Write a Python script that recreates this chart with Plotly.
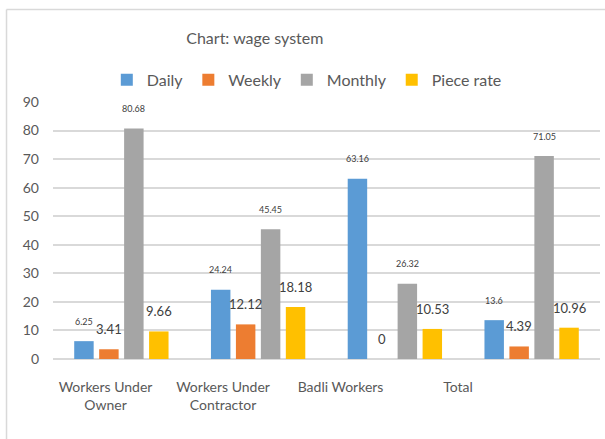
import plotly.graph_objects as go

categories = ["Workers Under<br>Owner", "Workers Under<br>Contractor", "Badli Workers", "Total"]
series_names = ["Daily", "Weekly", "Monthly", "Piece rate"]
daily = [6.25, 24.24, 63.16, 13.6]
weekly = [3.41, 12.12, 0, 4.39]
monthly = [80.68, 45.45, 26.32, 71.05]
piece_rate = [9.66, 18.18, 10.53, 10.96]
y_ticks = [0, 10, 20, 30, 40, 50, 60, 70, 80, 90]

series_values = [daily, weekly, monthly, piece_rate]
colors = ["#5B9BD5", "#ED7D31", "#A5A5A5", "#FFC000"]
label_sizes = [9, 13, 9, 13]

FONT = "Lato, Open Sans, sans-serif"
TXT = "#595959"

fig = go.Figure()
for name, vals, col in zip(series_names, series_values, colors):
    fig.add_trace(go.Bar(name=name, x=categories, y=vals, marker_color=col,
                         marker_line_width=0))

# category labels sit on a second, slightly compressed axis (as in the reference)
positions = list(range(len(categories)))
fig.add_trace(go.Scatter(x=positions, y=[None] * len(positions), xaxis="x2", mode="markers",
                         showlegend=False, hoverinfo="skip"))

# data labels above each bar
slot_px = 25
for i, (vals, size) in enumerate(zip(series_values, label_sizes)):
    for c, v in zip(categories, vals):
        fig.add_annotation(x=c, y=v, text=f"{v:g}", showarrow=False,
                           xshift=(i - 1.5) * slot_px, yshift=20, yanchor="middle",
                           font=dict(size=size, color="#404040", family=FONT))

# outer chart frame
fig.add_shape(type="line", xref="paper", yref="paper", x0=-0.085, x1=-0.085, y0=-0.4, y1=1.36,
              line=dict(color="#D9D9D9", width=1.5))
fig.add_shape(type="line", xref="paper", yref="paper", x0=-0.085, x1=1.05, y0=1.36, y1=1.36,
              line=dict(color="#D9D9D9", width=1.5))

fig.update_layout(
    width=605, height=439,
    margin=dict(l=53, r=5, t=102, b=80),
    paper_bgcolor="white", plot_bgcolor="white",
    barmode="group", bargap=0.27, bargroupgap=0.22,
    font=dict(family=FONT, color=TXT, size=14),
    title=dict(text="Chart: wage system", x=0.369, xref="paper", xanchor="center",
               y=0.912, yref="container", yanchor="middle",
               font=dict(size=16, color=TXT, family=FONT)),
    legend=dict(orientation="h", x=0.464, xanchor="center", y=1.086, yanchor="middle",
                font=dict(size=16, color=TXT, family=FONT), itemwidth=30,
                bgcolor="rgba(0,0,0,0)"),
    showlegend=True,
    xaxis=dict(showgrid=False, showline=False, ticks="", showticklabels=False),
    xaxis2=dict(overlaying="x", anchor="y", side="bottom", type="linear",
                range=[-0.447, 4.208], tickvals=positions, ticktext=categories,
                showgrid=False, zeroline=False, showline=False, ticks="",
                tickfont=dict(size=14, color=TXT), ticklabelstandoff=18),
)
fig.update_yaxes(range=[0, 90], tickvals=y_ticks, showgrid=True, gridcolor="#D9D9D9",
                 gridwidth=1.5, zeroline=True, zerolinecolor="#D9D9D9", zerolinewidth=1.5,
                 showline=False, ticks="", tickfont=dict(size=14, color=TXT), ticklabelstandoff=13)

fig.write_html("out.html", post_script="document.body.style.margin='0';",
               config={"displayModeBar": False})
